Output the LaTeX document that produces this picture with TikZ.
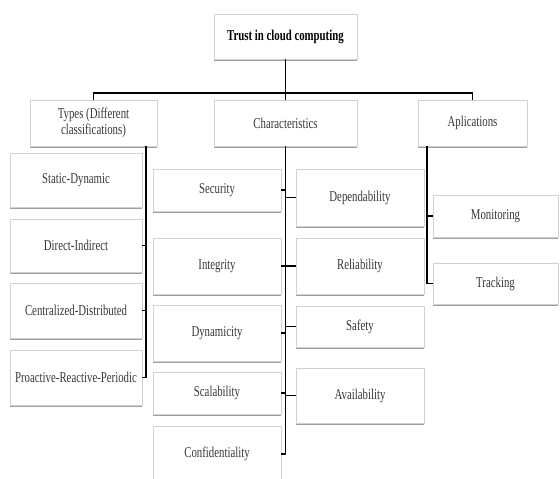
\documentclass[tikz,border=0pt]{standalone}
\usepackage{fontspec}
\setmainfont{Liberation Serif}[FakeStretch=0.72]
\usetikzlibrary{shadows}

\begin{document}
\begin{tikzpicture}[x=1pt, y=-1pt,
    box/.style={draw=gray!35, fill=white, line width=0.5pt, text=black!78,
        font=\fontsize{15}{16}\selectfont, align=center, inner sep=2pt,
        drop shadow={shadow xshift=0pt, shadow yshift=-1.8pt, fill=gray!85, opacity=0.9}},
    link/.style={line width=1.5pt, black}]
    \useasboundingbox (0,0) rectangle (560,479);

    % top levels
    \node[box, minimum width=143pt, minimum height=45pt, text=black,
          font=\fontsize{15}{16}\selectfont\bfseries] (root) at (285.5,36.5) {Trust in cloud computing};
    \node[box, minimum width=127pt, minimum height=46pt] (types) at (93.5,123) {Types (Different\\classifications)};
    \node[box, minimum width=143pt, minimum height=46pt] (char) at (285.5,123) {Characteristics};
    \node[box, minimum width=109pt, minimum height=46pt] (apps) at (472.5,123) {Aplications};

    % types
    \node[box, minimum width=132pt, minimum height=54pt] (sta) at (76,180) {Static-Dynamic};
    \node[box, minimum width=132pt, minimum height=53pt] (dir) at (76,245.5) {Direct-Indirect};
    \node[box, minimum width=132pt, minimum height=55pt] (cen) at (76,310.5) {Centralized-Distributed};
    \node[box, minimum width=132pt, minimum height=55pt] (pro) at (76,377.5) {Proactive-Reactive-Periodic};

    % characteristics
    \node[box, minimum width=128pt, minimum height=42pt] (sec) at (217,190) {Security};
    \node[box, minimum width=128pt, minimum height=56pt] (int) at (217,266) {Integrity};
    \node[box, minimum width=128pt, minimum height=56pt] (dyn) at (217,333) {Dynamicity};
    \node[box, minimum width=128pt, minimum height=42pt] (sca) at (217,393) {Scalability};
    \node[box, minimum width=128pt, minimum height=56pt] (conf) at (217,454) {Confidentiality};
    \node[box, minimum width=128pt, minimum height=57pt] (dep) at (360,197.5) {Dependability};
    \node[box, minimum width=128pt, minimum height=56pt] (rel) at (360,266) {Reliability};
    \node[box, minimum width=128pt, minimum height=41pt] (saf) at (360,326.5) {Safety};
    \node[box, minimum width=128pt, minimum height=55pt] (ava) at (360,395.5) {Availability};

    % applications
    \node[box, minimum width=125pt, minimum height=42pt] (mon) at (495.5,216) {Monitoring};
    \node[box, minimum width=125pt, minimum height=41pt] (trk) at (495.5,283.5) {Tracking};

    \coordinate (bar) at (285.5,93);
    \coordinate (tl) at ([xshift=52.5pt]types.south);
    \coordinate (al) at ([xshift=-45.5pt]apps.south);

    \draw[link] (root.south) -- (char.north);
    \draw[link, line width=1.8pt] (types.north) |- (bar) -| (apps.north);

    \draw[link] (tl) -- (tl |- pro.east);
    \foreach \n in {dir, cen, pro}
        \draw[link] (\n.east) -- (\n.east -| tl);

    \draw[link] (char.south) -- (char.south |- conf.east);
    \foreach \n in {sec, int, dyn, sca, conf}
        \draw[link] (\n.east) -- (\n.east -| char.south);
    \foreach \n in {dep, rel, saf, ava}
        \draw[link] (\n.west) -- (\n.west -| char.south);

    \draw[link] (al) -- (al |- trk.west);
    \foreach \n in {mon, trk}
        \draw[link] (\n.west) -- (\n.west -| al);
\end{tikzpicture}
\end{document}
